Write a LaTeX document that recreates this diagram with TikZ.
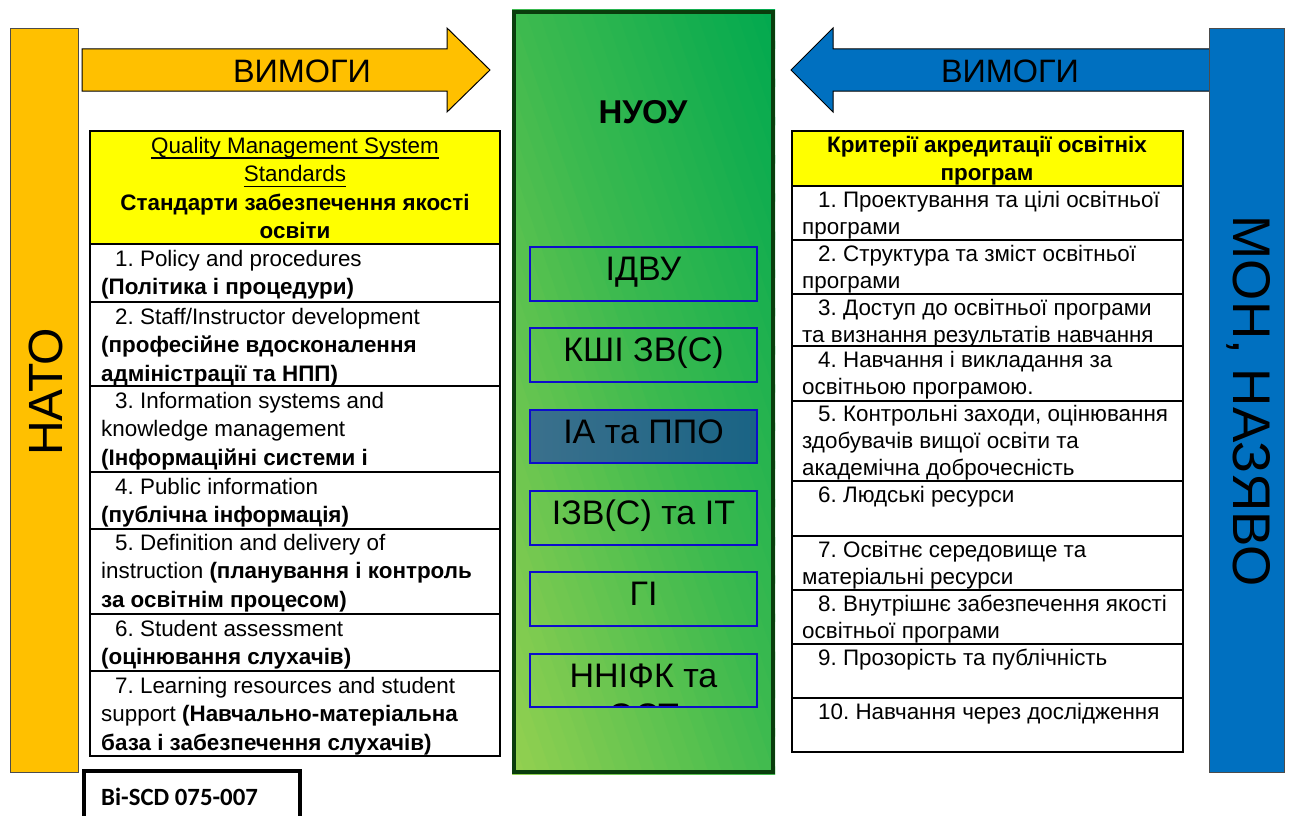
\documentclass[tikz,border=0pt]{standalone}
\usepackage{fontspec}
\setmainfont{Liberation Sans}
\newfontfamily\calfont{Carlito}
\usepackage{tikz}
\definecolor{natoorng}{rgb}{1,0.753,0}
\definecolor{monblue}{rgb}{0,0.439,0.753}
\definecolor{hdylw}{rgb}{1,1,0}
\definecolor{grnlight}{rgb}{0.573,0.816,0.314}
\definecolor{grnmid}{rgb}{0.24,0.73,0.31}
\definecolor{grndark}{rgb}{0,0.659,0.31}
\definecolor{grnedge}{rgb}{0.04,0.24,0.05}
\definecolor{subblue}{rgb}{0.05,0.05,0.8}
\definecolor{steelA}{rgb}{0.23,0.44,0.55}
\definecolor{steelB}{rgb}{0.10,0.39,0.52}
\newcommand\undl[1]{\setbox0\hbox{#1}\rlap{\rule[-5.5pt]{\wd0}{1.4pt}}\box0}
\frenchspacing

\begin{document}
\begin{tikzpicture}[x=1pt,y=-1pt,line join=miter,
	bar/.style={draw=black!70,line width=0.8pt},
	cell/.style={draw=black,fill=white,line width=1.6pt},
	subbox/.style={draw=subblue,line width=1.8pt},
	ltxt/.style={anchor=north west,inner sep=0pt,align=left,font=\fontsize{22.4}{28.5}\selectfont},
	rtxt/.style={anchor=north west,inner sep=0pt,align=left,font=\fontsize{22.4}{27}\selectfont},
	subtxt/.style={anchor=base,inner sep=0pt,font=\fontsize{34}{39}\selectfont}]
\useasboundingbox (0,0) rectangle (1290,816);

% arrows and side bars
\draw[fill=natoorng,line width=1pt] (82,49) -- (447,49) -- (447,28) -- (490,70) -- (447,112) -- (447,91) -- (82,91) -- cycle;
\node[anchor=base,inner sep=0pt,font=\fontsize{32.4}{38}\selectfont] (vymogyl) at (302,82) {ВИМОГИ};
\draw[fill=monblue,line width=1pt] (1212,49) -- (833,49) -- (833,28) -- (791,70) -- (833,112) -- (833,91) -- (1212,91) -- cycle;
\node[anchor=base,inner sep=0pt,font=\fontsize{32.4}{38}\selectfont] (vymogyr) at (1010,82) {ВИМОГИ};
\draw[bar,fill=natoorng] (10,28) rectangle (78,772);
\node[anchor=base,rotate=90,inner sep=0pt,font=\fontsize{48}{54}\selectfont] (nato) at (62,392) {НАТО};
\draw[bar,fill=monblue] (1209,28) rectangle (1284,772);
\node[anchor=base,rotate=-90,inner sep=0pt,font=\fontsize{53}{60}\selectfont] (mon) at (1233,401) {МОН, НАЗЯВО};

% NUOU block, diagonal gradient in strips
\begin{scope}
\clip (512,10) rectangle (775,774);
\begin{scope}[shift={(512,774)},x=263pt,y=764pt]
\foreach \k in {0,...,39}{
	\pgfmathsetmacro\sa{\k/20}
	\pgfmathsetmacro\sb{(\k+1.2)/20}
	\pgfmathtruncatemacro\pc{\k<20 ? 100-5*\k : 200-5*\k}
	\ifnum\k<20 \colorlet{stripc}{grnlight!\pc!grnmid}\else\colorlet{stripc}{grnmid!\pc!grndark}\fi
	\fill[stripc] (\sa+2,-2) -- (\sa-2,2) -- (\sb-2,2) -- (\sb+2,-2) -- cycle;
}
\end{scope}
\end{scope}
\draw[grnedge,line width=4.5pt] (514,12) rectangle (773,772);
\node[anchor=base,inner sep=0pt,font=\fontsize{33}{38}\selectfont\bfseries] (nuou) at (643,123) {НУОУ};
\draw[subbox] (530,247) rectangle (757,301);
\node[subtxt] (idvu) at (643.5,280) {ІДВУ};
\draw[subbox] (530,328) rectangle (757,382);
\node[subtxt] (kshi) at (643.5,361) {КШІ ЗВ(С)};
\shade[left color=steelA,right color=steelB] (530,410) rectangle (757,463);
\draw[subbox] (530,410) rectangle (757,463);
\node[subtxt] (ia) at (643.5,443) {ІА та ППО};
\draw[subbox] (530,491) rectangle (757,545);
\node[subtxt] (izv) at (643.5,524) {ІЗВ(С) та ІТ};
\draw[subbox] (530,572) rectangle (757,626);
\node[subtxt] (gi) at (643.5,605) {ГІ};
\begin{scope}
\clip (530,654) rectangle (757,707);
\node[subtxt] (nnifk) at (643.5,687) {ННІФК та};
\node[subtxt] (nnifkb) at (643.5,727) {ОСТ};
\end{scope}
\draw[subbox] (530,654) rectangle (757,707);

% left table (NATO)
\draw[cell,fill=hdylw] (90,131) rectangle (500,244);
\node[ltxt,anchor=north,align=center] (qmhead) at (295,133) {\strut\undl{Quality Management System}\\\strut\undl{Standards}\\\strut\textbf{Стандарти забезпечення якості}\\\strut\textbf{освіти}};
\draw[cell] (90,244) rectangle (500,302);
\node[ltxt] (std1) at (101,246) {\strut\hspace*{14pt}1. Policy and procedures\\\strut\textbf{(Політика і процедури)}};
\draw[cell] (90,302) rectangle (500,386);
\node[ltxt] (std2) at (101,304) {\strut\hspace*{14pt}2. Staff/Instructor development\\\strut\textbf{(професійне вдосконалення}\\\strut\textbf{адміністрації та НПП)}};
\draw[cell] (90,386) rectangle (500,472);
\node[ltxt] (std3) at (101,388) {\strut\hspace*{14pt}3. Information systems and\\\strut knowledge management\\\strut\textbf{(Інформаційні системи і}};
\draw[cell] (90,472) rectangle (500,529);
\node[ltxt] (std4) at (101,474) {\strut\hspace*{14pt}4. Public information\\\strut\textbf{(публічна інформація)}};
\draw[cell] (90,529) rectangle (500,614);
\node[ltxt] (std5) at (101,530) {\strut\hspace*{14pt}5. Definition and delivery of\\\strut instruction \textbf{(планування і контроль}\\\strut\textbf{за освітнім процесом)}};
\draw[cell] (90,614) rectangle (500,671);
\node[ltxt] (std6) at (101,616) {\strut\hspace*{14pt}6. Student assessment\\\strut\textbf{(оцінювання слухачів)}};
\draw[cell] (90,671) rectangle (500,756);
\node[ltxt] (std7) at (101,673) {\strut\hspace*{14pt}7. Learning resources and student\\\strut support \textbf{(Навчально-матеріальна}\\\strut\textbf{база і забезпечення слухачів)}};

% right table (MON)
\draw[cell,fill=hdylw] (792,131) rectangle (1183,186);
\node[rtxt,anchor=north,align=center,font=\fontsize{22.4}{28}\selectfont] (crithead) at (987,133) {\strut\textbf{Критерії акредитації освітніх}\\\strut\textbf{програм}};
\draw[cell] (792,186) rectangle (1183,240);
\node[rtxt] (crit1) at (802,188) {\strut\hspace*{16pt}1. Проектування та цілі освітньої\\\strut програми};
\draw[cell] (792,240) rectangle (1183,294);
\node[rtxt] (crit2) at (802,242) {\strut\hspace*{16pt}2. Структура та зміст освітньої\\\strut програми};
\draw[cell] (792,294) rectangle (1183,346);
\node[rtxt] (crit3) at (802,296) {\strut\hspace*{16pt}3. Доступ до освітньої програми\\\strut та визнання результатів навчання};
\draw[cell] (792,346) rectangle (1183,401);
\node[rtxt] (crit4) at (802,348) {\strut\hspace*{16pt}4. Навчання і викладання за\\\strut освітньою програмою.};
\draw[cell] (792,401) rectangle (1183,481);
\node[rtxt] (crit5) at (802,402) {\strut\hspace*{16pt}5. Контрольні заходи, оцінювання\\\strut здобувачів вищої освіти та\\\strut академічна доброчесність};
\draw[cell] (792,481) rectangle (1183,536);
\node[rtxt] (crit6) at (802,483) {\strut\hspace*{16pt}6. Людські ресурси};
\draw[cell] (792,536) rectangle (1183,590);
\node[rtxt] (crit7) at (802,538) {\strut\hspace*{16pt}7. Освітнє середовище та\\\strut матеріальні ресурси};
\draw[cell] (792,590) rectangle (1183,644);
\node[rtxt] (crit8) at (802,592) {\strut\hspace*{16pt}8. Внутрішнє забезпечення якості\\\strut освітньої програми};
\draw[cell] (792,644) rectangle (1183,698);
\node[rtxt] (crit9) at (802,646) {\strut\hspace*{16pt}9. Прозорість та публічність};
\draw[cell] (792,698) rectangle (1183,752);
\node[rtxt] (crit10) at (802,700) {\strut\hspace*{16pt}10. Навчання через дослідження};

% document code
\draw[line width=4pt] (84,771) rectangle (300,830);
\node[anchor=base west,inner sep=0pt,font=\fontsize{24.8}{28}\calfont\bfseries] (doccode) at (101,805) {Bi-SCD 075-007};
\end{tikzpicture}
\end{document}
